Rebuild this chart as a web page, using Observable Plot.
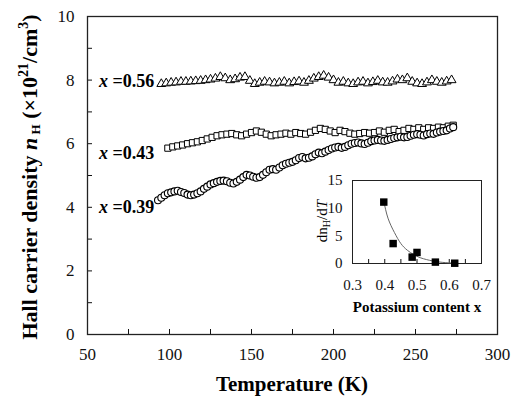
<!DOCTYPE html>
<html><head><meta charset="utf-8">
<script src="https://cdn.jsdelivr.net/npm/d3@7"></script>
<script src="https://cdn.jsdelivr.net/npm/@observablehq/plot@0.6"></script>
<style>
body{margin:0;background:#fff;}
#wrap{position:relative;width:515px;height:396px;font-family:"Liberation Serif",serif;overflow:hidden;}
#wrap svg, #wrap svg text{font-family:"Liberation Serif",serif !important;}
#inset{position:absolute;left:300px;top:160px;}
</style></head><body><div id="wrap"><div id="main"></div><div id="inset"></div></div>
<script>
// ---- main data ----
const triT = [95,98,101,104,107,110,113,116,119,122,125,128,131,134,137,140,143,146,149,152,155,158,161,164,167,170,173,176,179,182,185,188,191,194,197,200,203,206,209,212,215,218,221,224,227,230,233,236,239,242,245,248,251,254,257,260,263,266,269,272];
const triN = [7.88,7.9,7.92,7.93,7.95,7.95,7.96,7.97,7.98,8.0,8.02,8.05,8.1,8.06,8.0,8.03,8.08,8.1,7.98,7.88,7.92,7.95,7.93,7.9,7.92,7.95,7.9,7.94,7.96,7.92,7.98,8.05,8.1,8.14,8.08,8.0,7.92,7.95,7.9,7.88,7.93,7.95,7.9,7.94,7.98,7.93,7.92,7.96,8.02,8.0,8.06,7.95,7.9,7.88,7.93,8.0,7.95,7.92,7.96,8.0];
const sqT = [99,102,105,108,111,114,117,120,123,126,129,132,135,138,141,144,147,150,153,156,159,162,165,168,171,174,177,180,183,186,189,192,195,198,201,204,207,210,213,216,219,222,225,228,231,234,237,240,243,246,249,252,255,258,261,264,267,270,273];
const sqN = [5.86,5.9,5.93,5.96,6.0,6.03,6.06,6.1,6.15,6.2,6.25,6.28,6.3,6.32,6.28,6.25,6.3,6.35,6.4,6.36,6.3,6.25,6.28,6.3,6.33,6.3,6.35,6.32,6.3,6.36,6.42,6.48,6.45,6.4,6.35,6.42,6.38,6.33,6.3,6.32,6.35,6.33,6.35,6.4,6.36,6.42,6.45,6.38,6.42,6.48,6.45,6.5,6.45,6.5,6.48,6.52,6.5,6.55,6.58];
const cirT = [93,95,97,99,101,103,105,107,109,111,113,115,117,119,121,123,125,127,129,131,133,135,137,139,141,143,145,147,149,151,153,155,157,159,161,163,165,167,169,171,173,175,177,179,181,183,185,187,189,191,193,195,197,199,201,203,205,207,209,211,213,215,217,219,221,223,225,227,229,231,233,235,237,239,241,243,245,247,249,251,253,255,257,259,261,263,265,267,269,271,273];
const cirN = [4.22,4.3,4.38,4.44,4.47,4.5,4.52,4.48,4.45,4.4,4.38,4.4,4.44,4.5,4.58,4.65,4.72,4.76,4.8,4.83,4.84,4.82,4.77,4.75,4.8,4.87,4.95,5.02,5.0,4.96,4.93,4.95,5.02,5.1,5.18,5.2,5.18,5.25,5.32,5.37,5.4,5.43,5.48,5.55,5.58,5.54,5.56,5.6,5.67,5.72,5.7,5.75,5.8,5.85,5.88,5.9,5.87,5.9,5.95,6.0,6.02,6.04,6.01,5.99,6.03,6.08,6.1,6.12,6.1,6.09,6.12,6.15,6.18,6.2,6.22,6.2,6.21,6.25,6.28,6.3,6.28,6.26,6.3,6.32,6.31,6.35,6.38,6.4,6.42,6.48,6.52];
const seriesLabels = ["=0.56","=0.43","=0.39"];
const labelT = [57,57,57];
const labelN = [7.95,5.7,4.0];
const xTicksMinor = [75,100,125,150,175,200,225,250,275];
const xTickLabels = [50,100,150,200,250,300];
const yTicksMinor = [1,2,3,4,5,6,7,8,9];
const yTickLabels = [0,2,4,6,8,10];
// ---- inset data ----
const insetX = [0.397,0.426,0.485,0.50,0.557,0.617];
const insetY = [11.1,3.6,1.15,2.0,0.25,0.05];
const fitX = [0.397,0.41,0.43,0.45,0.47,0.49,0.51,0.53,0.55,0.58,0.62];
const fitY = [11.3,8.2,5.6,3.6,2.4,1.6,1.05,0.7,0.45,0.2,0.05];
const insetXTicks = [0.3,0.4,0.5,0.6,0.7];
const insetXMinor = [0.35,0.4,0.45,0.5,0.55,0.6,0.65];
const insetYTicks = [0,5,10,15];

const serif = '"Liberation Serif", serif';
const tri = triT.map((T,i)=>({T, n: triN[i]}));
const sq = sqT.map((T,i)=>({T, n: sqN[i]}));
const cir = cirT.map((T,i)=>({T, n: cirN[i]}));
const labs = seriesLabels.map((s,i)=>({s, T: labelT[i], n: labelN[i]}));

const main = Plot.plot({
  width: 515, height: 396,
  marginLeft: 87, marginRight: 18, marginTop: 16, marginBottom: 62,
  style: {fontFamily: serif, fontSize: "17px", color: "#111", background: "white"},
  x: {domain: [50, 300]},
  y: {domain: [0, 10]},
  marks: [
    Plot.axisX({ticks: xTicksMinor, tickSize: -5, tickFormat: () => "", label: null, strokeWidth: 1}),
    Plot.axisX({ticks: xTickLabels, tickSize: 0, tickPadding: 13, label: null, fontSize: 17, fontFamily: serif}),
    Plot.axisY({ticks: yTicksMinor, tickSize: -5, tickFormat: () => "", label: null, strokeWidth: 1}),
    Plot.axisY({ticks: yTickLabels, tickSize: 0, tickPadding: 13, label: null, fontSize: 17, fontFamily: serif}),
    Plot.frame({stroke: "#222", strokeWidth: 1.3}),
    Plot.dot(tri, {x: "T", y: "n", symbol: "triangle", r: 3.3, stroke: "#000", fill: "white", strokeWidth: 1}),
    Plot.dot(sq, {x: "T", y: "n", symbol: "square", r: 3.5, stroke: "#000", fill: "white", strokeWidth: 1}),
    Plot.dot(cir, {x: "T", y: "n", symbol: "circle", r: 3.5, stroke: "#000", fill: "white", strokeWidth: 1.1}),
    Plot.text(labs, {x: "T", y: "n", text: "s", textAnchor: "start", fontSize: 18, fontWeight: "bold", fill: "#000", fontFamily: serif, className: "serlab"})
  ]
});
document.getElementById("main").appendChild(main);
const svg = d3.select(main);
svg.selectAll(".serlab text").each(function(){
  const t = this.textContent;
  const s = d3.select(this); s.text("");
  s.append("tspan").attr("font-style","italic").text("x");
  s.append("tspan").text(" " + t);
});
// axis titles
const yl = svg.append("text").attr("transform","translate(37,177) rotate(-90)")
  .attr("text-anchor","middle").attr("font-family",serif).attr("font-weight","bold").attr("font-size",22).attr("fill","#000");
yl.append("tspan").text("Hall carrier density ");
yl.append("tspan").attr("font-style","italic").text("n");
yl.append("tspan").attr("font-size",13).attr("dy",3).text(" H");
yl.append("tspan").attr("dy",-3).text(" (×10");
yl.append("tspan").attr("font-size",14).attr("dy",-9).text("21");
yl.append("tspan").attr("dy",9).text("/cm");
yl.append("tspan").attr("font-size",14).attr("dy",-9).text("3");
yl.append("tspan").attr("dy",9).text(")");
svg.append("text").attr("x",292).attr("y",391).attr("text-anchor","middle")
  .attr("font-family",serif).attr("font-weight","bold").attr("font-size",21).attr("fill","#000").text("Temperature (K)");

// inset
const pts = insetX.map((x,i)=>({x, y: insetY[i]}));
const fit = fitX.map((x,i)=>({x, y: fitY[i]}));
const inset = Plot.plot({
  width: 190, height: 160,
  marginLeft: 52, marginRight: 9, marginTop: 20, marginBottom: 57,
  style: {fontFamily: serif, fontSize: "15px", color: "#111", background: "transparent", overflow: "visible"},
  x: {domain: [0.3, 0.7]},
  y: {domain: [0, 15]},
  marks: [
    Plot.axisX({ticks: insetXMinor, tickSize: -4, tickFormat: () => "", label: null}),
    Plot.axisX({ticks: insetXTicks, tickSize: 0, tickPadding: 16, label: null, fontSize: 15, fontFamily: serif, tickFormat: d3.format(".1f")}),
    Plot.axisY({ticks: insetYTicks, tickSize: 0, tickPadding: 10, label: null, fontSize: 15, fontFamily: serif}),
    Plot.frame({stroke: "#222", strokeWidth: 1}),
    Plot.line(fit, {x: "x", y: "y", curve: "natural", stroke: "#666", strokeWidth: 1}),
    Plot.dot(pts, {x: "x", y: "y", symbol: "square", r: 4.2, fill: "#000", stroke: "none"})
  ]
});
document.getElementById("inset").appendChild(inset);
const isvg = d3.select(inset);
const il = isvg.append("text").attr("transform","translate(27,61) rotate(-90)")
  .attr("text-anchor","middle").attr("font-family",serif).attr("font-size",15).attr("fill","#000");
il.append("tspan").text("dn");
il.append("tspan").attr("font-size",10).attr("dy",3).text("H");
il.append("tspan").attr("dy",-3).text("/d");
il.append("tspan").attr("font-style","italic").text("T");
isvg.append("text").attr("x",117).attr("y",152).attr("text-anchor","middle")
  .attr("font-family",serif).attr("font-weight","bold").attr("font-size",15).attr("fill","#000").text("Potassium content x");
</script></body></html>
